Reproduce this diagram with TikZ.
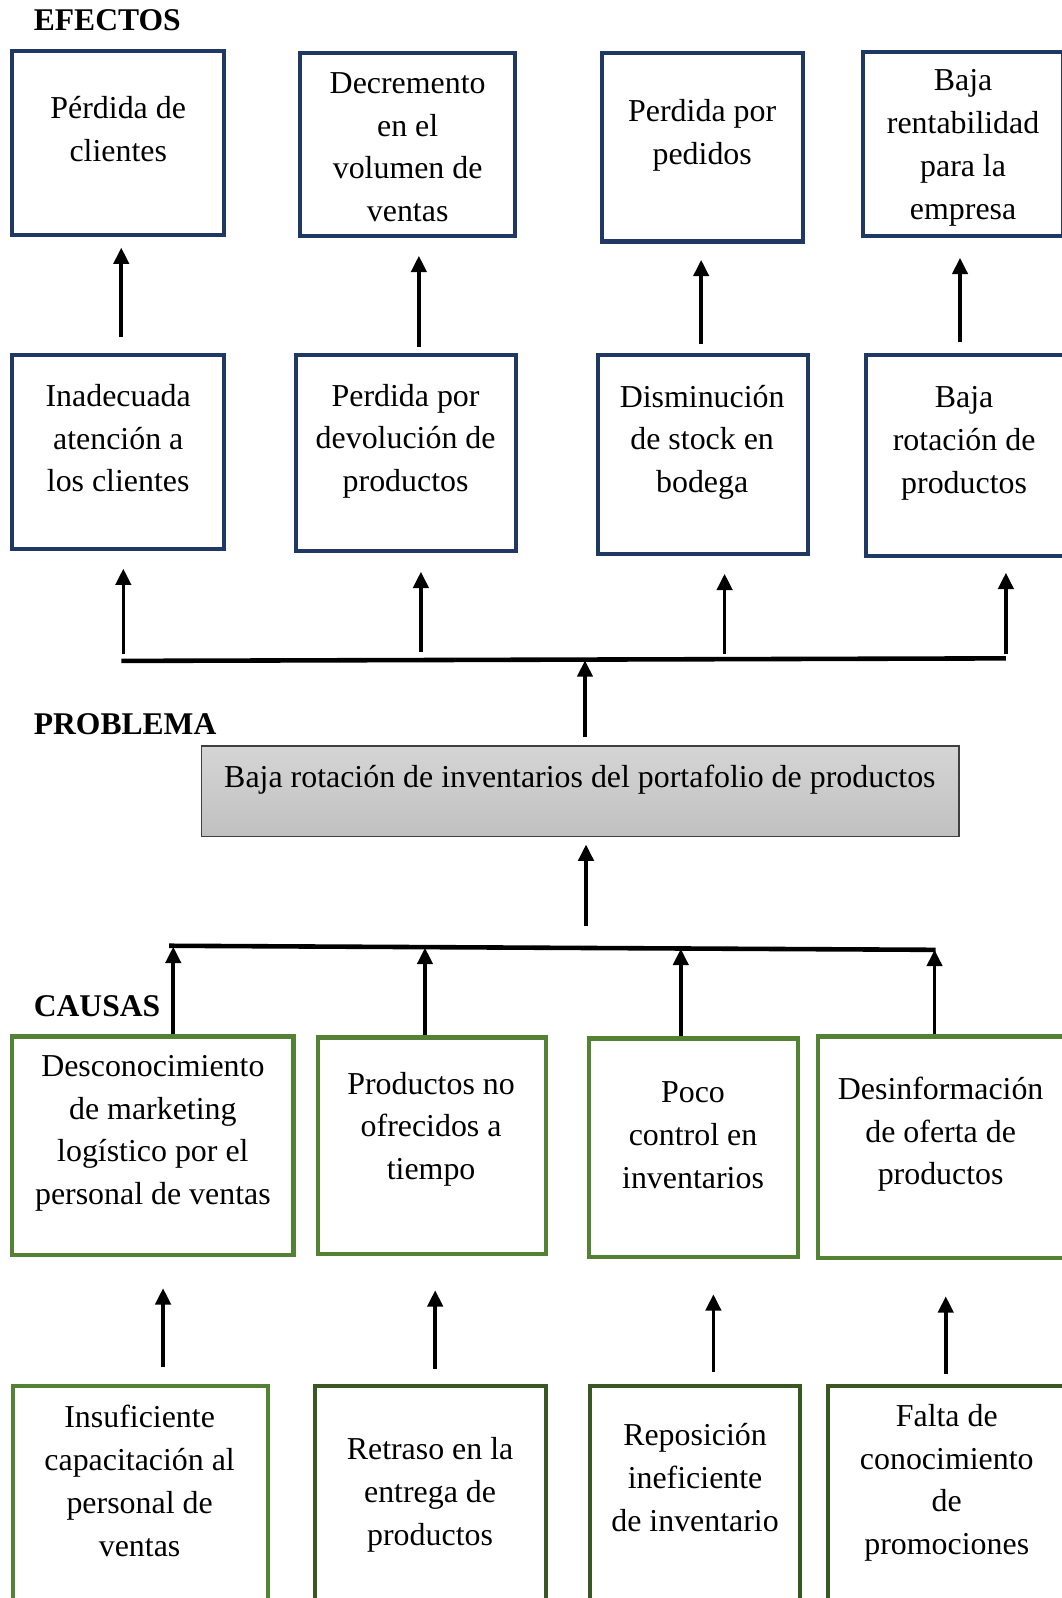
\documentclass[tikz,border=0pt]{standalone}
\usepackage{fontspec}
\setmainfont{Liberation Serif}
\usetikzlibrary{positioning,arrows.meta}
\usepackage{xcolor}
\definecolor{efectoblue}{RGB}{31,56,100}
\definecolor{causagreen}{RGB}{84,130,53}
\definecolor{raizgreen}{RGB}{56,87,35}
\definecolor{probtop}{RGB}{213,213,213}
\definecolor{probbot}{RGB}{192,192,192}
\tikzset{
  efecto/.style={draw=efectoblue, line width=4pt, inner sep=0pt},
  causa/.style={draw=causagreen, line width=4pt, inner sep=0pt},
  raiz/.style={draw=raizgreen, line width=4pt, inner sep=0pt},
  problema/.style={draw=black!75, line width=1.3pt, top color=probtop, bottom color=probbot, inner sep=0pt},
  texto/.style={align=center, inner sep=0pt, font=\fontsize{31.3}{42}\selectfont},
  titulo/.style={inner sep=0pt, font=\fontsize{31}{36}\selectfont\bfseries},
  flecha/.style={line width=3.5pt, -{Triangle[length=16pt,width=15pt]}},
  barra/.style={line width=4.5pt},
}

\begin{document}
\begin{tikzpicture}[x=1pt, y=-1pt]
        \useasboundingbox (0,0) rectangle (1042,1568);
        \clip (0,0) rectangle (1042,1568);

        % titles
        \node[titulo, anchor=base west] (efectos) at (33,30) {EFECTOS};
        \node[titulo, anchor=base west] (problem) at (33,721) {PROBLEMA};
        \node[titulo, anchor=base west] (causas) at (33,997) {CAUSAS};

        % efectos, first row
        \node[efecto, minimum width=208, minimum height=181] (pc) at (116,140.5) {};
        \node[efecto, minimum width=211, minimum height=180] (dv) at (399.5,142) {};
        \node[efecto, minimum width=197, minimum height=185] (pp) at (689.5,144.5) {};
        \node[efecto, minimum width=196, minimum height=181] (br) at (945,141.5) {};
        \node[texto] (pc-t) at (116,127) {Pérdida de\\clientes};
        \node[texto] (dv-t) at (400,144.5) {Decremento\\en el\\volumen de\\ventas};
        \node[texto] (pp-t) at (689,132.5) {Perdida por\\pedidos};
        \node[texto] (br-t) at (945,145) {Baja\\rentabilidad\\para la\\empresa};

        % efectos, second row
        \node[efecto, minimum width=208, minimum height=191] (ia) at (116,443.5) {};
        \node[efecto, minimum width=216, minimum height=193] (pd) at (398,444.5) {};
        \node[efecto, minimum width=206, minimum height=196] (ds) at (690,446) {};
        \node[efecto, minimum width=194, minimum height=198] (bp) at (947,447) {};
        \node[texto] (ia-t) at (116,430) {Inadecuada\\atención a\\los clientes};
        \node[texto] (pd-t) at (398,433) {Perdida por\\devolución de\\productos};
        \node[texto] (ds-t) at (689,434) {Disminución\\de stock en\\bodega};
        \node[texto] (bp-t) at (946,435) {Baja\\rotación de\\productos};

        \draw[flecha, shorten <=15pt, shorten >=10pt] ([xshift=3pt]ia.north) -- ([xshift=3pt]ia.north |- pc.south);
        \draw[flecha, shorten <=6pt, shorten >=17pt] ([xshift=13pt]pd.north) -- ([xshift=13pt]pd.north |- dv.south);
        \draw[flecha, shorten <=8pt, shorten >=16pt] ([xshift=-2pt]ds.north) -- ([xshift=-2pt]ds.north |- pp.south);
        \draw[flecha, shorten <=10pt, shorten >=19pt] ([xshift=-5pt]bp.north) -- ([xshift=-5pt]bp.north |- br.south);

        % bar of the effects
        \coordinate (bE-w) at (119,648.5);
        \coordinate (bE-e) at (987,646);
        \draw[barra] (bE-w) -- (bE-e);
        \coordinate (e1) at (121,648);
        \coordinate (e2) at (413,647);
        \coordinate (e3) at (711,647);
        \coordinate (e4) at (987,646);
        \draw[flecha, shorten <=6pt, shorten >=17pt] (e1) -- (e1 |- ia.south);
        \draw[flecha, shorten <=7pt, shorten >=18pt] (e2) -- (e2 |- pd.south);
        \draw[flecha, shorten <=5pt, shorten >=17pt] (e3) -- (e3 |- ds.south);
        \draw[flecha, shorten <=4pt, shorten >=14pt] (e4) -- (e4 |- bp.south);

        % problema
        \node[problema, minimum width=743, minimum height=89] (prob) at (569.5,776.5) {};
        \node[texto] (prob-t) at (569,765) {Baja rotación de inventarios del portafolio de productos};
        \coordinate (pe) at (574,648);
        \draw[flecha, shorten <=8pt] (pe |- prob.north) -- (pe);

        % bar of the causes
        \coordinate (bC-w) at (166,928);
        \coordinate (bC-e) at (918,932);
        \draw[barra] (bC-w) -- (bC-e);
        \coordinate (cc) at (575,930);
        \draw[flecha, shorten <=21pt, shorten >=7pt] (cc) -- (cc |- prob.south);

        % causas, first row
        \node[causa, minimum width=276, minimum height=214] (dm) at (150,1124) {};
        \node[causa, minimum width=224, minimum height=212] (pn) at (424,1124) {};
        \node[causa, minimum width=205, minimum height=214] (ci) at (680.5,1126) {};
        \node[causa, minimum width=241, minimum height=217] (do) at (923.5,1125.5) {};
        \node[texto] (dm-t) at (150,1112) {Desconocimiento\\de marketing\\logístico por el\\personal de ventas};
        \node[texto] (pn-t) at (423,1108) {Productos no\\ofrecidos a\\tiempo};
        \node[texto] (ci-t) at (680,1114) {Poco\\control en\\inventarios};
        \node[texto] (do-t) at (923,1113) {Desinformación\\de oferta de\\productos};

        \coordinate (c1) at (170,929);
        \coordinate (c2) at (417,930);
        \coordinate (c3) at (668,931);
        \coordinate (c4) at (917,932);
        \draw[flecha] (c1 |- dm.north) -- (c1);
        \draw[flecha] (c2 |- pn.north) -- (c2);
        \draw[flecha] (c3 |- ci.north) -- (c3);
        \draw[flecha] (c4 |- do.north) -- (c4);

        % causas, second row
        \node[causa, minimum width=250, minimum height=238] (ic) at (138,1479) {};
        \node[raiz, minimum width=227, minimum height=238] (re) at (422.5,1479) {};
        \node[raiz, minimum width=206, minimum height=238] (ri) at (682,1479) {};
        \node[raiz, minimum width=234, minimum height=238] (fc) at (929,1479) {};
        \node[texto] (ic-t) at (137,1453) {Insuficiente\\capacitación al\\personal de\\ventas};
        \node[texto] (re-t) at (422,1467) {Retraso en la\\entrega de\\productos};
        \node[texto] (ri-t) at (682,1450) {Reposición\\ineficiente\\de inventario};
        \node[texto] (fc-t) at (929,1455) {Falta de\\conocimiento\\de\\promociones};

        \draw[flecha, shorten <=17pt, shorten >=31pt] ([xshift=22pt]ic.north) -- ([xshift=22pt]ic.north |- dm.south);
        \draw[flecha, shorten <=15pt, shorten >=34pt] ([xshift=4.5pt]re.north) -- ([xshift=4.5pt]re.north |- pn.south);
        \draw[flecha, shorten <=12pt, shorten >=35pt] ([xshift=18pt]ri.north) -- ([xshift=18pt]ri.north |- ci.south);
        \draw[flecha, shorten <=10pt, shorten >=36pt] ([xshift=-1pt]fc.north) -- ([xshift=-1pt]fc.north |- do.south);
\end{tikzpicture}
\end{document}
